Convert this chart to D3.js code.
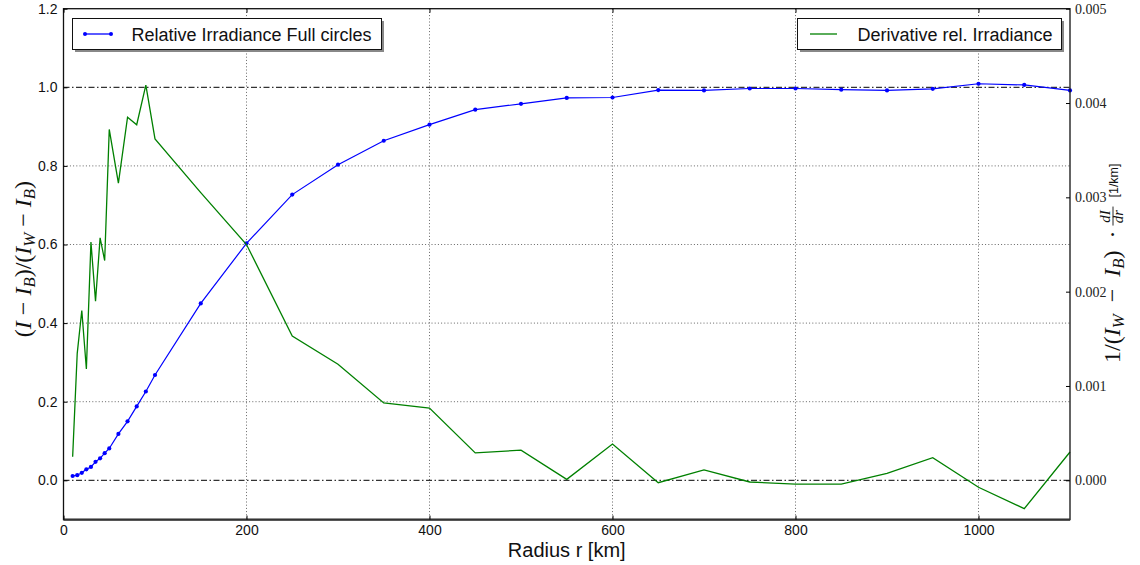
<!DOCTYPE html>
<html><head><meta charset="utf-8">
<script src="https://cdn.jsdelivr.net/npm/d3@7"></script>
<style>
body{margin:0;background:#fff;}
svg{display:block;}
</style></head>
<body>
<svg id="chart" width="1140" height="565"></svg>
<script>
// ---- data ----
const radius = [10,15,20,25,30,35,40,45,50,60,70,80,90,100,150,200,250,300,350,400,450,500,550,600,650,700,750,800,850,900,950,1000,1050,1100];
const relIrradiance = [0.011,0.013,0.019,0.028,0.034,0.047,0.056,0.069,0.081,0.118,0.150,0.188,0.226,0.268,0.450,0.603,0.727,0.803,0.864,0.905,0.943,0.958,0.973,0.974,0.993,0.992,0.997,0.997,0.994,0.992,0.996,1.009,1.006,0.992];
const derivative = [0.00025,0.001346,0.0018,0.00118,0.002525,0.0019,0.00257,0.00233,0.00372,0.00315,0.00385,0.00377,0.00419,0.00362,0.00305,0.0025,0.00153,0.00123,0.00082,0.000766,0.00029,0.00032,0.00001,0.000385,-0.000025,0.00011,-0.000018,-0.00004,-0.00004,0.000074,0.00024,-0.000074,-0.0003,0.0003];
const xTicks = [0,200,400,600,800,1000];
const yLeftTicks = [0.0,0.2,0.4,0.6,0.8,1.0,1.2];
const yRightTicks = [0.000,0.001,0.002,0.003,0.004,0.005];
const legendLabels = ["Relative Irradiance Full circles","Derivative rel. Irradiance"];

// ---- layout ----
const L = 63.5, R = 1070, T = 8.7, B = 519.6;
const svg = d3.select("#chart");
const x = d3.scaleLinear().domain([0,1100]).range([L,R]);
const y = d3.scaleLinear().domain([-0.1,1.2]).range([B,T]);
const y2 = d3.scaleLinear().domain([-0.1/240,1.2/240]).range([B,T]);

// grid
const grid = svg.append("g");
grid.selectAll("line.gx").data(xTicks.filter(d=>d>0)).enter().append("line")
  .attr("x1",d=>x(d)).attr("x2",d=>x(d)).attr("y1",T).attr("y2",B)
  .attr("stroke","#555").attr("stroke-width",0.9).attr("stroke-dasharray","1,2.2");
grid.selectAll("line.gy").data(yLeftTicks.filter(d=>d>0.05&&d<0.95)).enter().append("line")
  .attr("x1",L).attr("x2",R).attr("y1",d=>y(d)).attr("y2",d=>y(d))
  .attr("stroke","#555").attr("stroke-width",0.9).attr("stroke-dasharray","1,2.2");
// reference dash-dot lines at 0 and 1
grid.selectAll("line.ref").data([0,1]).enter().append("line")
  .attr("x1",L).attr("x2",R).attr("y1",d=>y(d)).attr("y2",d=>y(d))
  .attr("stroke","#000").attr("stroke-width",1).attr("stroke-dasharray","6,2.5,1.5,2.5");

// lines
const lineBlue = d3.line().x((d,i)=>x(radius[i])).y(d=>y(d));
svg.append("path").datum(relIrradiance).attr("d",lineBlue)
  .attr("fill","none").attr("stroke","#0000ff").attr("stroke-width",1.2);
svg.append("g").selectAll("circle").data(relIrradiance).enter().append("circle")
  .attr("cx",(d,i)=>x(radius[i])).attr("cy",d=>y(d)).attr("r",2.1).attr("fill","#0000ff");
const lineGreen = d3.line().x((d,i)=>x(radius[i])).y(d=>y2(d));
svg.append("path").datum(derivative).attr("d",lineGreen)
  .attr("fill","none").attr("stroke","#008000").attr("stroke-width",1.3);

// frame
svg.append("rect").attr("x",L).attr("y",T).attr("width",R-L).attr("height",B-T)
  .attr("fill","none").attr("stroke","#111").attr("stroke-width",1.3);
svg.append("line").attr("x1",L).attr("x2",R).attr("y1",B).attr("y2",B).attr("stroke","#333").attr("stroke-width",2.2);

// axes (inside ticks)
const ax = svg.append("g").attr("transform",`translate(0,${B})`)
  .call(d3.axisBottom(x).tickValues(xTicks).tickSizeInner(-4).tickSizeOuter(0).tickPadding(5).tickFormat(d3.format("d")));
ax.select(".domain").remove();
ax.selectAll("text").attr("font-family","Liberation Sans, Arial, sans-serif").attr("font-size",14).attr("fill","#111");
const axTop = svg.append("g").attr("transform",`translate(0,${T})`)
  .call(d3.axisTop(x).tickValues(xTicks).tickSizeInner(-4).tickSizeOuter(0).tickFormat(""));
axTop.select(".domain").remove();

const ayl = svg.append("g").attr("transform",`translate(${L},0)`)
  .call(d3.axisLeft(y).tickValues(yLeftTicks).tickSizeInner(-4).tickSizeOuter(0).tickPadding(6).tickFormat(d3.format(".1f")));
ayl.select(".domain").remove();
ayl.selectAll("text").attr("font-family","Liberation Sans, Arial, sans-serif").attr("font-size",14).attr("fill","#111");

const ayr = svg.append("g").attr("transform",`translate(${R},0)`)
  .call(d3.axisRight(y2).tickValues(yRightTicks).tickSizeInner(-4).tickSizeOuter(0).tickPadding(5).tickFormat(d3.format(".3f")));
ayr.select(".domain").remove();
ayr.selectAll("text").attr("font-family","Liberation Serif, Times New Roman, serif").attr("font-size",14).attr("fill","#222");

// x label
svg.append("text").attr("x",(L+R)/2).attr("y",557).attr("text-anchor","middle")
  .attr("font-family","Liberation Sans, Arial, sans-serif").attr("font-size",20).attr("fill","#111").text("Radius r [km]");

function addMath(t, parts){
  parts.forEach(p=>{
    const ts = t.append("tspan").text(p.t);
    if(p.i) ts.attr("font-style","italic");
    if(p.sub){ ts.attr("font-size","0.7em").attr("dy", "0.25em"); }
    if(p.up){ ts.attr("dy", "-0.175em"); }
  });
}
// left y label (math)
const yl = svg.append("text").attr("transform","translate(31,259) rotate(-90)").attr("text-anchor","middle")
  .style("white-space","pre")
  .attr("font-family","Liberation Serif, Times New Roman, serif").attr("font-size",24).attr("fill","#111");
addMath(yl,[{t:"("},{t:"I",i:1},{t:" − "},{t:"I",i:1},{t:"B",i:1,sub:1},{t:")/(",up:1},{t:"I",i:1},{t:"W",i:1,sub:1},{t:" − ",up:1},{t:"I",i:1},{t:"B",i:1,sub:1},{t:")",up:1}]);

// right y label (math), built in rotated group
const gr = svg.append("g").attr("transform","translate(1120,363) rotate(-90)");
const rl = gr.append("text").attr("x",0).attr("y",0).style("white-space","pre")
  .attr("font-family","Liberation Serif, Times New Roman, serif").attr("font-size",24).attr("fill","#111");
addMath(rl,[{t:"1/("},{t:"I",i:1},{t:"W",i:1,sub:1},{t:"  −  ",up:1},{t:"I",i:1},{t:"B",i:1,sub:1},{t:")  ·",up:1}]);
const rlw = rl.node().getComputedTextLength();
const fx = rlw + 5;
gr.append("text").attr("x",fx+9).attr("y",-10).attr("text-anchor","middle")
  .attr("font-family","Liberation Serif, serif").attr("font-style","italic").attr("font-size",15).attr("fill","#111").text("dI");
gr.append("line").attr("x1",fx).attr("x2",fx+19).attr("y1",-7).attr("y2",-7).attr("stroke","#111").attr("stroke-width",0.9);
gr.append("text").attr("x",fx+9).attr("y",3).attr("text-anchor","middle")
  .attr("font-family","Liberation Serif, serif").attr("font-style","italic").attr("font-size",15).attr("fill","#111").text("dr");
gr.append("text").attr("x",fx+28).attr("y",-2)
  .attr("font-family","Liberation Sans, Arial, sans-serif").attr("font-size",12.5).attr("fill","#111").text("[1/km]");

// legends
function legend(x0,y0,w,h,label,color,markers,sx1,sx2,tx){
  const g = svg.append("g");
  g.append("rect").attr("x",x0+2.5).attr("y",y0+2.5).attr("width",w).attr("height",h).attr("fill","#888");
  g.append("rect").attr("x",x0).attr("y",y0).attr("width",w).attr("height",h).attr("fill","#fff").attr("stroke","#111").attr("stroke-width",1);
  const ly = y0+h/2;
  g.append("line").attr("x1",sx1).attr("x2",sx2).attr("y1",ly).attr("y2",ly).attr("stroke",color).attr("stroke-width",1.3);
  if(markers){ [sx1,sx2].forEach(px=>g.append("circle").attr("cx",px).attr("cy",ly).attr("r",2).attr("fill",color)); }
  g.append("text").attr("x",tx).attr("y",ly+6.5).attr("font-family","Liberation Sans, Arial, sans-serif").attr("font-size",18).attr("fill","#111").text(label);
}
legend(72.5,18.5,309,31,legendLabels[0],"#0000ff",true,85,111,131.5);
legend(797.5,18.5,264,31,legendLabels[1],"#008000",false,810,837,857.5);
</script>
</body></html>
